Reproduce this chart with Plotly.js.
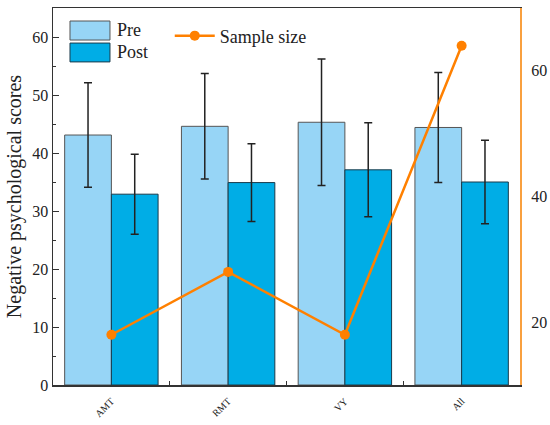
<!DOCTYPE html>
<html>
<head>
<meta charset="utf-8">
<script src="https://cdn.plot.ly/plotly-3.0.1.min.js"></script>
<style>html,body{margin:0;padding:0;background:#fff;}#chart{width:550px;height:425px;}</style>
</head>
<body>
<div id="chart"></div>
<script>
const categories = ["AMT", "RMT", "VY", "All"];
const preValues = [43.1, 44.6, 45.3, 44.4];
const preErrors = [9.0, 9.1, 10.9, 9.5];
const postValues = [32.9, 34.9, 37.1, 35.0];
const postErrors = [6.9, 6.7, 8.1, 7.2];
const sampleSize = [18, 28, 18, 64];
const seriesNames = ["Pre", "Post", "Sample size"];

const serif = "Liberation Serif, Times New Roman, serif";
const preColor = "#97D5F6";
const postColor = "#00ADE6";

const traces = [
  {
    type: "bar", name: seriesNames[0], x: categories, y: preValues, showlegend: false,
    error_y: {type: "data", array: preErrors, visible: true, color: "#222", thickness: 1.5, width: 4},
    marker: {color: preColor, line: {color: "#555", width: 1}}
  },
  {
    type: "bar", name: seriesNames[1], x: categories, y: postValues, showlegend: false,
    error_y: {type: "data", array: postErrors, visible: true, color: "#222", thickness: 1.5, width: 4},
    marker: {color: postColor, line: {color: "#1a3a4a", width: 1}}
  },
  {
    type: "scatter", mode: "lines+markers", name: seriesNames[2], x: categories, y: sampleSize,
    yaxis: "y2",
    line: {color: "#FF8000", width: 2.5},
    marker: {color: "#FF8000", size: 10}
  }
];

// legend boxes for the bar series (paper coordinates)
const shapes = [
  {type: "rect", xref: "paper", yref: "paper", x0: 0.0364, x1: 0.122, y0: 0.915, y1: 0.9655,
   fillcolor: preColor, line: {color: "#555", width: 1}},
  {type: "rect", xref: "paper", yref: "paper", x0: 0.0364, x1: 0.122, y0: 0.857, y1: 0.907,
   fillcolor: postColor, line: {color: "#1a3a4a", width: 1}}
];
const annotations = [
  {xref: "paper", yref: "paper", x: 0.133, y: 0.941, xanchor: "left", yanchor: "middle",
   text: seriesNames[0], showarrow: false, font: {family: serif, size: 18, color: "#222"}},
  {xref: "paper", yref: "paper", x: 0.133, y: 0.883, xanchor: "left", yanchor: "middle",
   text: seriesNames[1], showarrow: false, font: {family: serif, size: 18, color: "#222"}}
];

const layout = {
  width: 550, height: 425,
  margin: {l: 53, r: 30, t: 8, b: 40},
  paper_bgcolor: "#fff", plot_bgcolor: "#fff",
  font: {family: serif, color: "#222", size: 16},
  barmode: "group", bargap: 0.2, bargroupgap: 0,
  showlegend: true,
  shapes: shapes,
  annotations: annotations,
  xaxis: {
    type: "category", range: [-0.5, 3.5],
    showline: true, linecolor: "#333", linewidth: 1.5, mirror: true,
    ticks: "inside", ticklen: 4, tickcolor: "#333", tickson: "boundaries",
    tickangle: -45, ticklabelstandoff: 5, tickfont: {family: serif, size: 10, color: "#222"},
    showgrid: false, zeroline: false
  },
  yaxis: {
    range: [0, 65], dtick: 10, tick0: 0,
    showline: true, linecolor: "#333", linewidth: 1.5,
    ticks: "inside", ticklen: 6, tickcolor: "#333",
    minor: {dtick: 5, ticks: "inside", ticklen: 3, tickcolor: "#333", showgrid: false},
    tickfont: {family: serif, size: 16, color: "#222"},
    title: {text: "Negative psychological scores", font: {family: serif, size: 20, color: "#222"}, standoff: 5},
    showgrid: false, zeroline: false
  },
  yaxis2: {
    overlaying: "y", side: "right", range: [10, 70], tick0: 20, dtick: 20,
    showline: true, linecolor: "#F9A03F", linewidth: 2,
    ticks: "", ticklabelstandoff: 6, tickfont: {family: serif, size: 16, color: "#222"},
    showgrid: false, zeroline: false
  },
  legend: {
    x: 0.25, y: 0.975, xanchor: "left", yanchor: "top",
    bgcolor: "rgba(0,0,0,0)", font: {family: serif, size: 18, color: "#222"},
    itemwidth: 40
  }
};

Plotly.newPlot("chart", traces, layout, {displayModeBar: false, staticPlot: true});
</script>
</body>
</html>
